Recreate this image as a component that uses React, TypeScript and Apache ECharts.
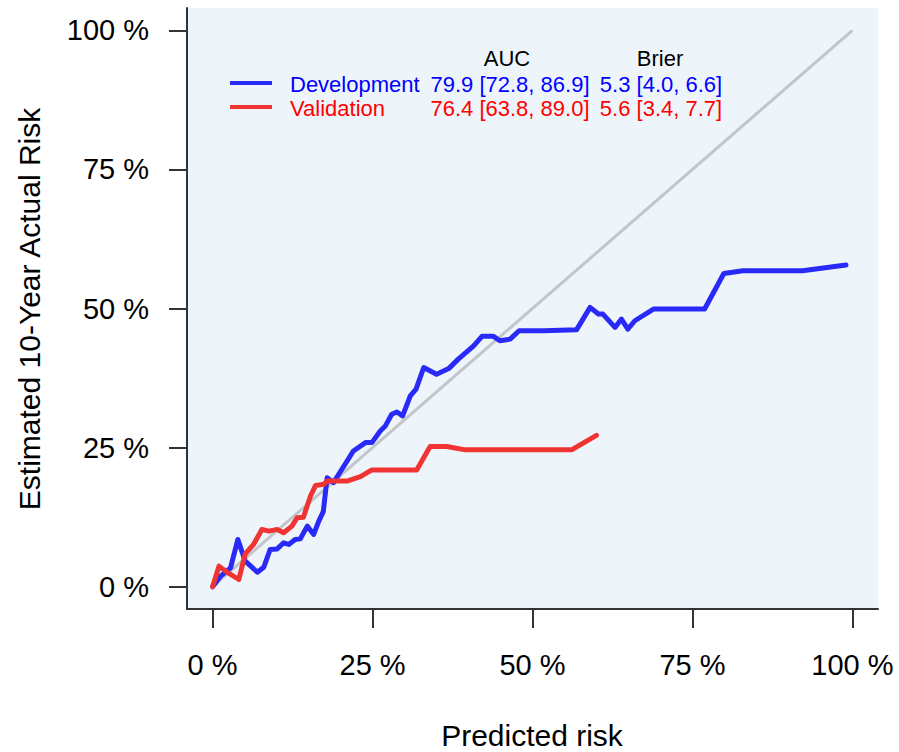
import React, { useEffect, useRef } from "react";
import * as echarts from "echarts";

const tickValues = [0, 25, 50, 75, 100];
const devData: [number, number][] = [
  [0, 0], [1.25, 1.9], [2.8, 3.4], [3.95, 8.5], [5.1, 4.6], [7.0, 2.6], [8.0, 3.5],
  [9.0, 6.7], [10.1, 6.8], [11.1, 7.9], [11.9, 7.6], [12.9, 8.5], [13.7, 8.6],
  [14.8, 10.9], [15.8, 9.4], [16.6, 11.8], [17.3, 13.5], [17.9, 19.6], [18.9, 18.7],
  [22.0, 24.4], [23.9, 25.9], [24.9, 25.9], [26.2, 28.0], [27.0, 28.9], [28.0, 31.0],
  [28.8, 31.4], [29.7, 30.7], [30.9, 34.3], [31.8, 35.5], [33.0, 39.4], [35.0, 38.2],
  [36.9, 39.2], [38.4, 40.9], [40.8, 43.3], [42.1, 45.0], [43.9, 45.0], [44.9, 44.2],
  [46.5, 44.5], [47.9, 46.0], [51.7, 46.0], [56.9, 46.2], [59.0, 50.2], [60.3, 49.0],
  [61.0, 49.0], [62.9, 46.6], [63.9, 48.1], [64.9, 46.3], [66.0, 47.8], [68.9, 49.9],
  [76.9, 49.9], [79.9, 56.3], [82.9, 56.8], [92.2, 56.8], [99.0, 57.8],
];
const valData: [number, number][] = [
  [0, 0], [1.0, 3.7], [2.3, 2.6], [4.1, 1.3], [5.1, 5.9], [6.4, 7.6], [7.7, 10.3],
  [8.8, 10.0], [10.1, 10.3], [11.1, 9.7], [12.4, 10.9], [13.2, 12.4], [14.2, 12.5],
  [15.3, 16.3], [16.1, 18.2], [17.4, 18.4], [17.9, 19.0], [21.0, 19.0], [23.1, 19.8],
  [24.9, 21.0], [31.9, 21.0], [34.0, 25.2], [36.6, 25.2], [39.5, 24.6], [56.1, 24.6],
  [60.0, 27.2],
];
const refData: [number, number][] = [[0, 0], [100, 100]];

const legendNames = ["Development", "Validation"];
const aucTexts = ["79.9 [72.8, 86.9]", "76.4 [63.8, 89.0]"];
const brierTexts = ["5.3 [4.0, 6.6]", "5.6 [3.4, 7.7]"];
const textColors = ["#0000ff", "#ff0000"];
const lineColors = ["#2a2af8", "#f03434"];

const FONT = "'Liberation Sans', Arial, sans-serif";

export default function App() {
  const ref = useRef<HTMLDivElement>(null);
  useEffect(() => {
    if (!ref.current) return;
    const chart = echarts.init(ref.current, null, { renderer: "svg" });
    const axisCommon = {
      type: "value" as const,
      min: -4,
      max: 104,
      splitLine: { show: false },
      axisLine: { show: true, onZero: false, lineStyle: { color: "#333", width: 2 } },
    };
    const rowsY = [84, 108];
    const graphics: any[] = [
      {
        type: "text", x: 532, y: 735,
        style: { text: "Predicted risk", font: `30px ${FONT}`, fill: "#000", align: "center", verticalAlign: "middle" },
      },
      {
        type: "text", x: 29, y: 309, rotation: Math.PI / 2,
        style: { text: "Estimated 10-Year Actual Risk", font: `30px ${FONT}`, fill: "#000", align: "center", verticalAlign: "middle" },
      },
      {
        type: "text", x: 507, y: 58,
        style: { text: "AUC", font: `22px ${FONT}`, fill: "#000", align: "center", verticalAlign: "middle" },
      },
      {
        type: "text", x: 660, y: 58,
        style: { text: "Brier", font: `22px ${FONT}`, fill: "#000", align: "center", verticalAlign: "middle" },
      },
    ];
    legendNames.forEach((n, i) => {
      graphics.push({
        type: "line", shape: { x1: 230, y1: rowsY[i] - 1, x2: 272, y2: rowsY[i] - 1 },
        style: { stroke: lineColors[i], lineWidth: 4 },
      });
      graphics.push({
        type: "text", x: 290, y: rowsY[i],
        style: { text: n, font: `22px ${FONT}`, fill: textColors[i], align: "left", verticalAlign: "middle" },
      });
      graphics.push({
        type: "text", x: 510, y: rowsY[i],
        style: { text: aucTexts[i], font: `22px ${FONT}`, fill: textColors[i], align: "center", verticalAlign: "middle" },
      });
      graphics.push({
        type: "text", x: 661, y: rowsY[i],
        style: { text: brierTexts[i], font: `22px ${FONT}`, fill: textColors[i], align: "center", verticalAlign: "middle" },
      });
    });

    chart.setOption({
      animation: false,
      grid: {
        left: 187, right: 21, top: 8, bottom: 143,
        show: true, backgroundColor: "#eef5fa", borderWidth: 0,
      },
      xAxis: {
        ...axisCommon,
        axisTick: { show: true, customValues: tickValues, length: 19, lineStyle: { color: "#333", width: 2 } },
        axisLabel: {
          customValues: tickValues, formatter: (v: number) => `${v} %`,
          fontSize: 29, fontFamily: FONT, color: "#000", margin: 41,
        },
      },
      yAxis: {
        ...axisCommon,
        axisTick: { show: true, customValues: tickValues, length: 18, lineStyle: { color: "#333", width: 2 } },
        axisLabel: {
          customValues: tickValues, formatter: (v: number) => `${v} %`,
          fontSize: 29, fontFamily: FONT, color: "#000", margin: 38,
        },
      },
      graphic: graphics,
      series: [
        {
          type: "line", data: refData, symbol: "none", silent: true, z: 1,
          lineStyle: { color: "#c2c6ca", width: 3 },
        },
        {
          type: "line", data: devData, symbol: "none", z: 3,
          lineStyle: { color: lineColors[0], width: 5, join: "round", cap: "round" },
        },
        {
          type: "line", data: valData, symbol: "none", z: 4,
          lineStyle: { color: lineColors[1], width: 5, join: "round", cap: "round" },
        },
      ],
    });
    return () => chart.dispose();
  }, []);
  return (
    <div
      ref={ref}
      style={{ position: "fixed", left: 0, top: 0, width: 899, height: 752, background: "#fff" }}
    />
  );
}
